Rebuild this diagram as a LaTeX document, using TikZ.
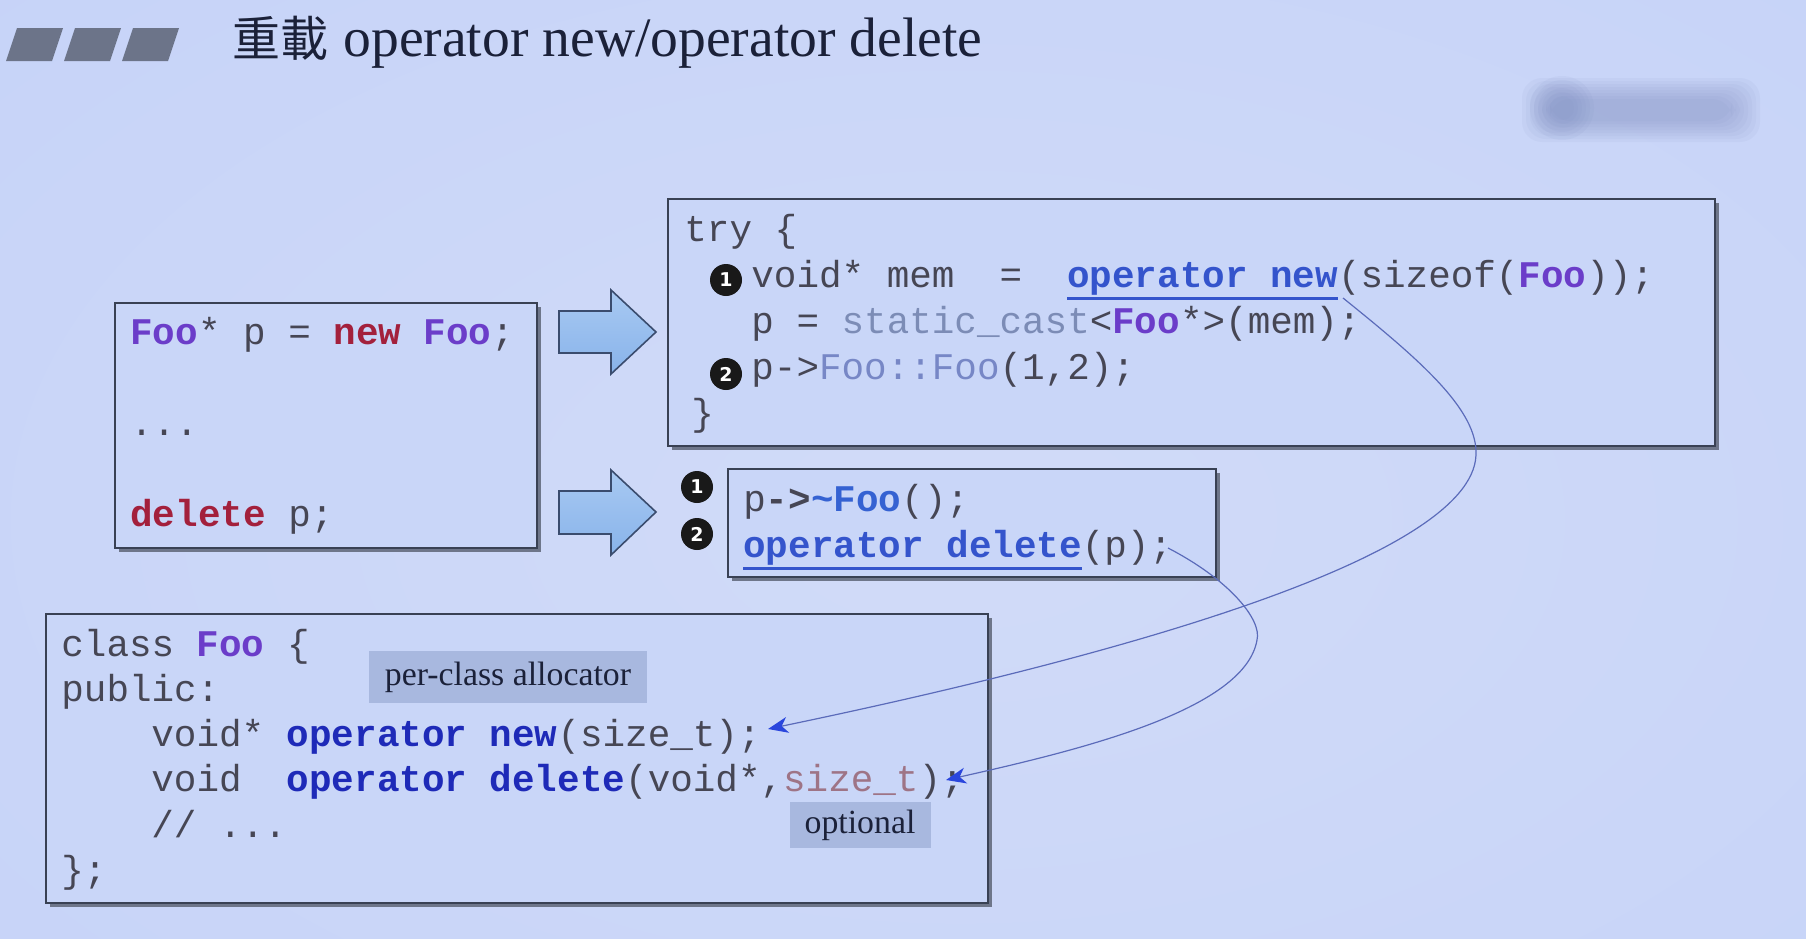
\documentclass[tikz,border=0pt]{standalone}
\usepackage{fontspec}
\setmainfont{Liberation Serif}
\newfontfamily\codefont{Liberation Mono}
\newfontfamily\cjkfont{Noto Sans CJK TC}
\newfontfamily\badgefont{DejaVu Sans}
\usetikzlibrary{arrows.meta,shadows}

\definecolor{bgout}{HTML}{C2D0F8}
\definecolor{bgin}{HTML}{D1DBF8}
\definecolor{boxfill}{HTML}{C9D6F8}
\definecolor{boxline}{HTML}{394154}
\definecolor{boxshadow}{HTML}{6E768A}
\definecolor{codegray}{HTML}{464654}
\definecolor{foopurple}{HTML}{6B3DC9}
\definecolor{kwred}{HTML}{A3203C}
\definecolor{opblue}{HTML}{3454CC}
\definecolor{clsblue}{HTML}{1E2AB8}
\definecolor{castgray}{HTML}{7C8CB6}
\definecolor{ctorblue}{HTML}{7787C6}
\definecolor{dtorblue}{HTML}{3562D2}
\definecolor{sizepink}{HTML}{9E7486}
\definecolor{labelfill}{HTML}{A8B8DF}
\definecolor{titleink}{HTML}{1B2139}
\definecolor{markgray}{HTML}{6C7489}
\definecolor{arrowtop}{HTML}{A8C9F2}
\definecolor{arrowbot}{HTML}{88B3EA}
\definecolor{arrowline}{HTML}{3A4C6E}
\definecolor{linkline}{HTML}{5B6BBA}
\definecolor{linkhead}{HTML}{2A46DD}
\definecolor{wmark}{HTML}{7D8CBF}

% class name and underlined operator call
\newcommand\clsfoo{\textcolor{foopurple}{\bfseries Foo}}
\newsavebox\ulbox
\newcommand\opline[1]{\sbox\ulbox{#1}\rlap{\rule[-6.3pt]{\wd\ulbox}{1.1pt}}\usebox\ulbox}

\tikzset{
  codebox/.style={draw=boxline, line width=1.1pt, fill=boxfill, inner sep=0pt,
    drop shadow={shadow xshift=1.8pt, shadow yshift=-1.8pt, fill=boxshadow, opacity=1}},
  codeline/.style={anchor=base west, inner sep=0pt, text=codegray,
    font=\codefont\fontsize{18.8}{22}\selectfont},
  badgecirc/.style={circle, fill=black!90, text=white, inner sep=0pt, minimum size=16pt,
    font=\badgefont\bfseries\fontsize{9.5}{10}\selectfont},
  tagnote/.style={fill=labelfill, inner sep=0pt, text=titleink,
    font=\fontsize{16.9}{18}\selectfont},
  bigarrow/.style={draw=arrowline, line width=0.8pt, top color=arrowtop, bottom color=arrowbot},
  linkcurve/.style={draw=linkline, line width=0.6pt,
    -{Stealth[length=10pt, width=8pt, inset=3pt, color=linkhead]}},
}

\begin{document}
\begin{tikzpicture}[x=0.5pt, y=-0.5pt]
\useasboundingbox (0,0) rectangle (1806,938);

% background
\fill[bgout] (0,0) rectangle (1806,938);
\begin{scope}
  \clip (0,0) rectangle (1806,938);
  \shade[inner color=bgin, outer color=bgout] (960,520) ellipse [x radius=1900, y radius=1100];
\end{scope}

% blurred logo, top right
\foreach \k in {0,...,7} {
  \fill[wmark, opacity=0.07, rounded corners=10pt] (1522+\k*4,78+\k*3) rectangle (1760-\k*4,142-\k*3);
}
\foreach \k in {0,...,5} {
  \fill[wmark, opacity=0.08] (1562,108) circle [radius=16pt-\k*2pt];
}

% title
\foreach \i in {0,1,2} {
  \fill[markgray] (6+58*\i,61) -- (52+58*\i,61) -- (63+58*\i,28) -- (17+58*\i,28) -- cycle;
}
\node[anchor=base west, inner sep=0pt, text=titleink, font=\cjkfont\fontsize{24}{26}\selectfont]
  (tcjk) at (232,56) {重載};
\node[anchor=base west, inner sep=0pt, text=titleink, font=\fontsize{27.8}{30}\selectfont]
  (tlat) at (343,56) {operator new/operator delete};

% code boxes
\node[codebox, minimum width=523.5pt, minimum height=123.5pt] (trybox) at (1191.5,322.5) {};
\node[codebox, minimum width=211pt, minimum height=122.5pt] (userbox) at (326,425.5) {};
\node[codebox, minimum width=244pt, minimum height=54pt] (delbox) at (972,523) {};
\node[codebox, minimum width=471pt, minimum height=144.5pt] (classbox) at (517,758.5) {};

% expansion arrows
\path[bigarrow] (559,311) -- (611,311) -- (611,290) -- (656,332) -- (611,374) -- (611,353) -- (559,353) -- cycle;
\path[bigarrow] (559,491) -- (611,491) -- (611,470) -- (656,512) -- (611,555) -- (611,534) -- (559,534) -- cycle;

% user code
\node[codeline] (u0) at (130,344) {\clsfoo* p = \textcolor{kwred}{\bfseries new} \clsfoo;};
\node[codeline] (u1) at (130,435) {...};
\node[codeline] (u2) at (130,526) {\textcolor{kwred}{\bfseries delete} p;};

% expansion of new
\node[codeline] (t0) at (684,241) {try \{};
\node[codeline] (t1) at (751,287) {void* mem\ \ =\ \ {\color{opblue}\opline{\bfseries operator new}}(sizeof(\clsfoo));};
\node[codeline] (t2) at (751,333) {p = \textcolor{castgray}{static\_cast}<\clsfoo*>(mem);};
\node[codeline] (t3) at (751,379) {p->\textcolor{ctorblue}{Foo::Foo}(1,2);};
\node[codeline] (t4) at (691,425) {\}};
\node[badgecirc] (n1) at (726,280) {1};
\node[badgecirc] (n2) at (726,374) {2};

% expansion of delete
\node[codeline] (d0) at (743,511) {p{\bfseries->}\textcolor{dtorblue}{\bfseries\textasciitilde Foo}();};
\node[codeline] (d1) at (743,557) {{\color{opblue}\opline{\bfseries operator delete}}(p);};
\node[badgecirc] (m1) at (697,487) {1};
\node[badgecirc] (m2) at (697,534) {2};

% class declaration
\node[codeline] (k0) at (61,656) {class \clsfoo\ \{};
\node[codeline] (k1) at (61,701) {public:};
\node[codeline] (k2) at (151,746) {void* \textcolor{clsblue}{\bfseries operator new}(size\_t);};
\node[codeline] (k3) at (151,791) {void\ \ \textcolor{clsblue}{\bfseries operator delete}(void*,\textcolor{sizepink}{size\_t});};
\node[codeline] (k4) at (151,837) {// ...};
\node[codeline] (k5) at (61,882) {\};};

\node[tagnote, minimum width=139pt, minimum height=26pt] (alloc) at (508,677) {per-class allocator};
\node[tagnote, minimum width=70.5pt, minimum height=23pt] (opt) at (860,825) {optional};

% links from the calls to the member operators
\coordinate (newsrc) at (1343,298);
\coordinate (newdst) at (768,729);
\draw[linkcurve] (newsrc) .. controls (1420,360) and (1478,410) .. (1476,455)
  .. controls (1472,560) and (1100,660) .. (newdst);
\coordinate (delsrc) at (1168,548);
\coordinate (deldst) at (946,780);
\draw[linkcurve] (delsrc) .. controls (1230,580) and (1262,620) .. (1257,640)
  .. controls (1245,710) and (1080,750) .. (deldst);
\end{tikzpicture}
\end{document}
